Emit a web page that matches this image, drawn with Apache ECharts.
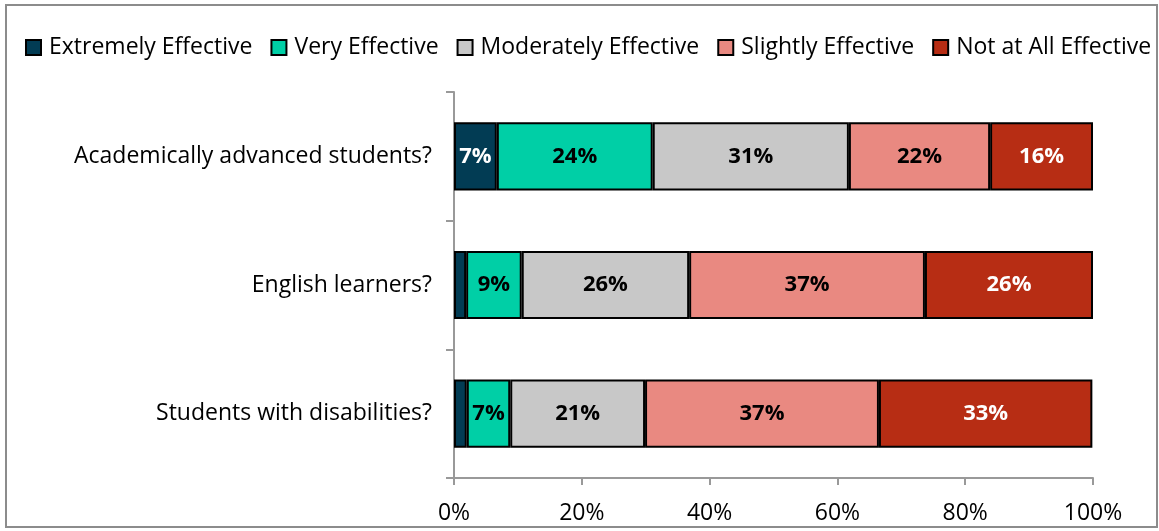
<!DOCTYPE html>
<html>
<head>
<meta charset="utf-8">
<script src="https://cdn.jsdelivr.net/npm/echarts@6/dist/echarts.min.js"></script>
<style>
  html, body { margin: 0; padding: 0; background: #fff; }
  #main { position: absolute; left: 0; top: 0; width: 1159px; height: 531px; }
  #frame { position: absolute; left: 5px; top: 4px; width: 1153px; height: 524px; box-sizing: border-box; border: 2px solid #8c8c8c; pointer-events: none; }
</style>
</head>
<body>
<div id="main"></div>
<div id="frame"></div>
<script>
const categories = ['Academically advanced students?', 'English learners?', 'Students with disabilities?'];
const seriesNames = ['Extremely Effective', 'Very Effective', 'Moderately Effective', 'Slightly Effective', 'Not at All Effective'];
const extremely = [6.7, 1.9, 2.0];
const very = [24.4, 8.7, 6.8];
const moderately = [30.7, 26.2, 21.1];
const slightly = [22.1, 36.9, 36.6];
const notAtAll = [16.1, 26.3, 33.4];
const xTicks = [0, 20, 40, 60, 80, 100];

const colors = ['#023c54', '#00cfa6', '#c8c8c8', '#e98981', '#b72d14'];
const labelColors = ['#fff', '#000', '#000', '#000', '#fff'];
const values = [extremely, very, moderately, slightly, notAtAll];
const font = 'Open Sans';

const chart = echarts.init(document.getElementById('main'));

const series = values.map(function (d, i) {
  return {
    name: seriesNames[i],
    type: 'bar',
    stack: 'total',
    barWidth: '53%',
    data: d,
    itemStyle: { color: colors[i], borderColor: '#000', borderWidth: 2 },
    label: {
      show: true,
      position: 'inside',
      color: labelColors[i],
      fontFamily: font,
      fontWeight: 'bold',
      fontSize: 22,
      formatter: function (p) {
        return p.value < 5 ? '' : Math.round(p.value) + '%';
      }
    }
  };
});

const option = {
  animation: false,
  color: colors,
  legend: {
    data: seriesNames,
    top: 31,
    left: 20,
    itemWidth: 15,
    itemHeight: 15,
    itemGap: 18,
    icon: 'rect',
    itemStyle: { borderColor: '#000', borderWidth: 2 },
    textStyle: { fontFamily: font, fontSize: 23, color: '#000', padding: [0, 0, 0, 3] }
  },
  grid: { left: 454, right: 66, top: 92, bottom: 53 },
  xAxis: {
    type: 'value',
    min: 0,
    max: 100,
    interval: 20,
    axisLine: { show: true, lineStyle: { color: '#999', width: 2 } },
    axisTick: { show: true, length: 7, lineStyle: { color: '#999', width: 2 } },
    splitLine: { show: false },
    axisLabel: {
      color: '#000',
      fontFamily: font,
      fontSize: 23,
      margin: 24,
      formatter: function (v) { return xTicks.indexOf(v) >= 0 ? v + '%' : ''; }
    }
  },
  yAxis: {
    type: 'category',
    data: categories,
    inverse: true,
    axisLine: { show: true, lineStyle: { color: '#999', width: 2 } },
    axisTick: { show: true, length: 8, lineStyle: { color: '#999', width: 2 } },
    axisLabel: { color: '#000', fontFamily: font, fontSize: 23, margin: 22 }
  },
  series: series
};

chart.setOption(option);
</script>
</body>
</html>
